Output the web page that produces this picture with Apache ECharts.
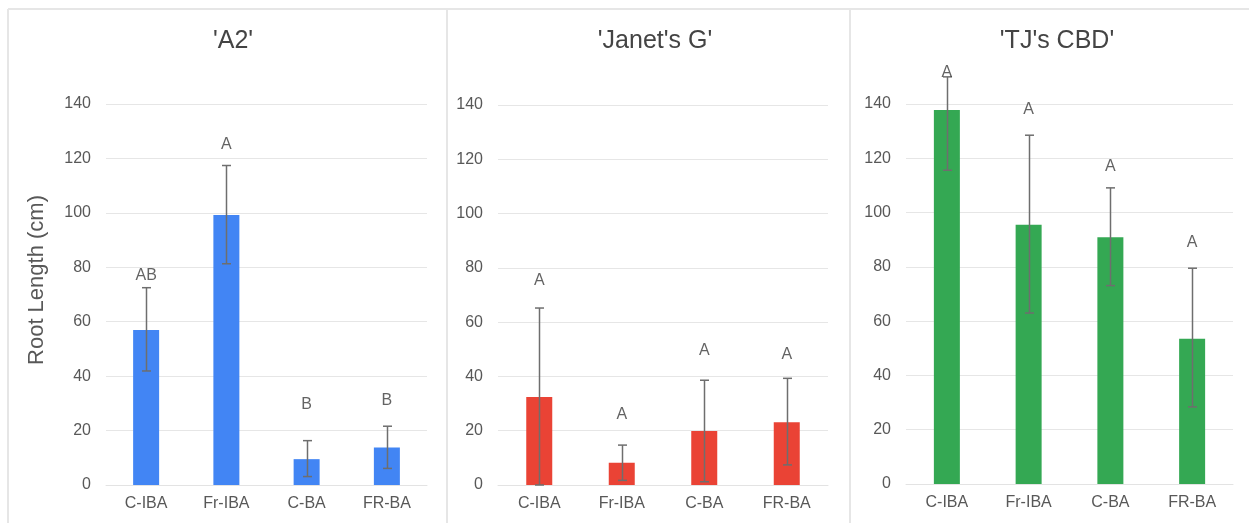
<!DOCTYPE html>
<html><head><meta charset="utf-8">
<script src="https://cdn.jsdelivr.net/npm/echarts@6/dist/echarts.min.js"></script>
<style>html,body{margin:0;padding:0;background:#fff}#c{width:1249px;height:523px}</style>
</head><body><div id="c"></div>
<script>
const categories = ['C-IBA', 'Fr-IBA', 'C-BA', 'FR-BA'];
const yTicks = [0, 20, 40, 60, 80, 100, 120, 140];
const panelTitles = ["'A2'", "'Janet's G'", "'TJ's CBD'"];
const yAxisTitle = 'Root Length (cm)';

const a2Mean = [57, 99.2, 9.5, 13.8];
const a2Low = [41.9, 81.3, 3.1, 6.1];
const a2High = [72.5, 117.4, 16.3, 21.6];
const a2Letters = ['AB', 'A', 'B', 'B'];
const a2LetterY = [76.8, 125, 29.4, 30.9];

const janetMean = [32.4, 8.2, 19.9, 23.1];
const janetLow = [0, 1.7, 1.2, 7.4];
const janetHigh = [65.2, 14.7, 38.6, 39.3];
const janetLetters = ['A', 'A', 'A', 'A'];
const janetLetterY = [75.2, 26, 49.6, 48.2];

const tjMean = [137.8, 95.5, 90.9, 53.5];
const tjLow = [115.6, 63, 73.1, 28.4];
const tjHigh = [150, 128.5, 109.1, 79.5];
const tjLetters = ['A', 'A', 'A', 'A'];
const tjLetterY = [151.5, 137.8, 117, 89];

const panels = [
  {mean: a2Mean, low: a2Low, high: a2High, letters: a2Letters, ly: a2LetterY, color: '#4285F4'},
  {mean: janetMean, low: janetLow, high: janetHigh, letters: janetLetters, ly: janetLetterY, color: '#EA4335'},
  {mean: tjMean, low: tjLow, high: tjHigh, letters: tjLetters, ly: tjLetterY, color: '#34A853'}
];
const grids = [
  {left: 106, right: 822, top: 104, bottom: 38},
  {left: 498, right: 421, top: 105, bottom: 38},
  {left: 906, right: 16, top: 104, bottom: 39}
];
const titleCenters = [228, 650, 1052];
const FONT = 'Liberation Sans, Arial, sans-serif';
const TXT = '#585858';

const chart = echarts.init(document.getElementById('c'), null, {renderer: 'canvas'});
const option = {
  animation: false,
  backgroundColor: '#fff',
  title: panelTitles.map((t, i) => ({
    text: t, left: titleCenters[i], top: 24, textAlign: 'center',
    textStyle: {fontFamily: FONT, fontSize: 25, fontWeight: 'normal', color: '#444'}
  })),
  grid: grids,
  xAxis: grids.map((g, i) => ({
    type: 'category', gridIndex: i, data: categories,
    axisLine: {show: true, lineStyle: {color: '#e3e3e3', width: 1}},
    axisTick: {show: false},
    axisLabel: {fontFamily: FONT, fontSize: 16, color: TXT, margin: 11}
  })),
  yAxis: grids.map((g, i) => ({
    type: 'value', gridIndex: i, min: yTicks[0], max: yTicks[yTicks.length - 1], interval: yTicks[1] - yTicks[0],
    axisLine: {show: false}, axisTick: {show: false},
    splitLine: {lineStyle: {color: '#e6e6e6', width: 1}},
    axisLabel: {fontFamily: FONT, fontSize: 16, color: TXT, margin: 15}
  })),
  series: [],
  graphic: [
    {type: 'line', shape: {x1: 8, y1: 9, x2: 1249, y2: 9}, style: {stroke: '#e6e6e6', lineWidth: 2}},
    {type: 'line', shape: {x1: 8, y1: 9, x2: 8, y2: 523}, style: {stroke: '#e6e6e6', lineWidth: 2}},
    {type: 'line', shape: {x1: 447, y1: 9, x2: 447, y2: 523}, style: {stroke: '#e6e6e6', lineWidth: 2}},
    {type: 'line', shape: {x1: 850, y1: 9, x2: 850, y2: 523}, style: {stroke: '#e6e6e6', lineWidth: 2}},
    {type: 'text', x: 37, y: 280, rotation: Math.PI / 2,
     style: {text: yAxisTitle, fontFamily: FONT, fontSize: 22, fill: TXT, textAlign: 'center', textVerticalAlign: 'middle'}}
  ]
};
panels.forEach((p, i) => {
  option.series.push({
    type: 'bar', xAxisIndex: i, yAxisIndex: i, data: p.mean, barWidth: 26,
    itemStyle: {color: p.color}
  });
  option.series.push({
    type: 'custom', xAxisIndex: i, yAxisIndex: i, clip: false, z: 5,
    data: p.mean.map((m, k) => [k, p.low[k], p.high[k]]),
    renderItem: function (params, api) {
      const lo = api.coord([api.value(0), api.value(1)]);
      const hi = api.coord([api.value(0), api.value(2)]);
      const x = Math.round(lo[0]) + 0.5;
      const hw = 4.5;
      const st = {stroke: '#6e6e6e', lineWidth: 1.5};
      return {type: 'group', children: [
        {type: 'line', shape: {x1: x, y1: lo[1], x2: x, y2: hi[1]}, style: st},
        {type: 'line', shape: {x1: x - hw, y1: lo[1], x2: x + hw, y2: lo[1]}, style: st},
        {type: 'line', shape: {x1: x - hw, y1: hi[1], x2: x + hw, y2: hi[1]}, style: st}
      ]};
    }
  });
  option.series.push({
    type: 'scatter', xAxisIndex: i, yAxisIndex: i, symbolSize: 1, z: 6, clip: false,
    itemStyle: {color: 'rgba(0,0,0,0)'},
    data: p.ly.map((y, k) => ({value: [k, y], name: p.letters[k]})),
    label: {show: true, position: 'inside', formatter: (d) => d.name,
            fontFamily: FONT, fontSize: 16, color: '#3c3c3c',
            backgroundColor: 'rgba(0,0,0,0)'}
  });
});
chart.setOption(option);
</script></body></html>
